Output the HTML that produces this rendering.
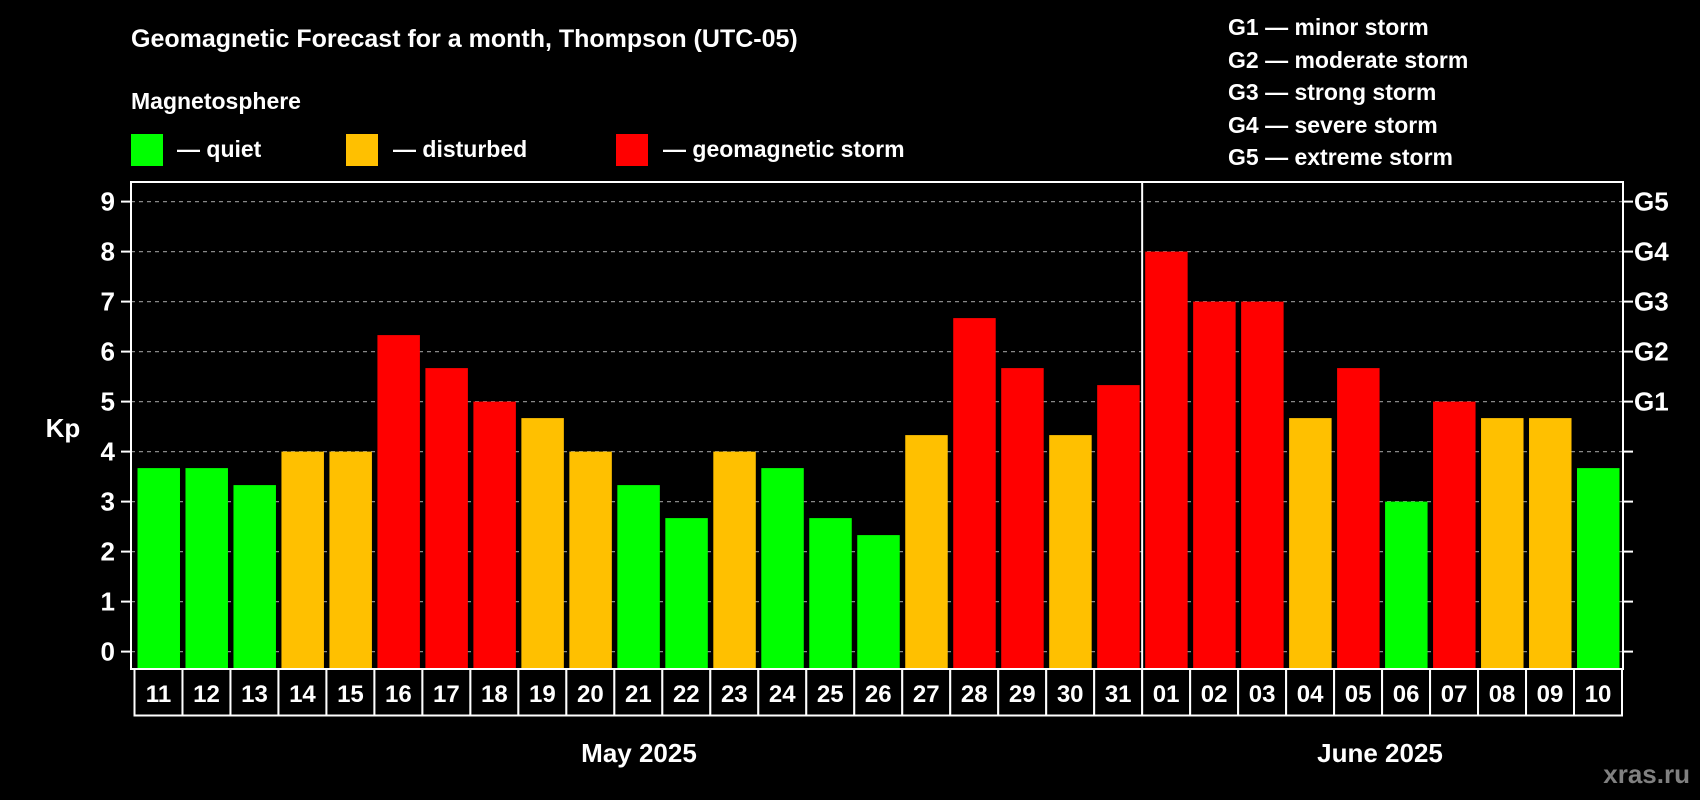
<!DOCTYPE html>
<html><head><meta charset="utf-8"><style>
body{margin:0;background:#000;width:1700px;height:800px;overflow:hidden}
svg{display:block;font-family:"Liberation Sans",sans-serif;font-weight:bold}
</style></head><body>
<svg id="c" width="1700" height="800">
<text x="131" y="47" fill="#fff" font-size="25">Geomagnetic Forecast for a month, Thompson (UTC-05)</text>
<text x="131" y="109" fill="#fff" font-size="23">Magnetosphere</text>
<rect x="131" y="134" width="32" height="32" fill="#00ff00"/>
<text x="177" y="157" fill="#fff" font-size="23">— quiet</text>
<rect x="346" y="134" width="32" height="32" fill="#ffc000"/>
<text x="393" y="157" fill="#fff" font-size="23">— disturbed</text>
<rect x="616" y="134" width="32" height="32" fill="#ff0000"/>
<text x="663" y="157" fill="#fff" font-size="23">— geomagnetic storm</text>
<g fill="#fff" font-size="23">
<text x="1228" y="35">G1 — minor storm</text>
<text x="1228" y="68">G2 — moderate storm</text>
<text x="1228" y="100">G3 — strong storm</text>
<text x="1228" y="133">G4 — severe storm</text>
<text x="1228" y="165">G5 — extreme storm</text>
</g>
<text x="63" y="437" fill="#fff" font-size="26" text-anchor="middle">Kp</text>
<text x="639" y="762" fill="#fff" font-size="26" text-anchor="middle">May 2025</text>
<text x="1380" y="762" fill="#fff" font-size="26" text-anchor="middle">June 2025</text>
<text x="1690" y="783" fill="#808080" font-size="26" text-anchor="end">xras.ru</text>
<g id="plot"></g>
</svg>
<script>
const days=["11","12","13","14","15","16","17","18","19","20","21","22","23","24","25","26","27","28","29","30","31","01","02","03","04","05","06","07","08","09","10"];
const kp=[3.67,3.67,3.33,4,4,6.33,5.67,5,4.67,4,3.33,2.67,4,3.67,2.67,2.33,4.33,6.67,5.67,4.33,5.33,8,7,7,4.67,5.67,3,5,4.67,4.67,3.67];
const yTicks=[0,1,2,3,4,5,6,7,8,9];
const gLabels=["G1","G2","G3","G4","G5"];
const gLevels=[5,6,7,8,9];
const NS="http://www.w3.org/2000/svg";
const g=document.getElementById('plot');
const L=131,R=1623,T=182,B=669,X0=134.5,CW=(1622-134.5)/31;
const y=v=>651.6-v*50;
const x=i=>X0+i*CW;
function mk(t,a,p){const e=document.createElementNS(NS,t);for(const k in a)e.setAttribute(k,a[k]);(p||g).appendChild(e);return e;}
yTicks.forEach(v=>{
 const gl=mk('line',{x1:L,x2:R,y1:y(v),y2:y(v),stroke:'#888','stroke-width':1.2,'stroke-dasharray':'4,4'});
 
 
 mk('line',{x1:L-10,x2:L,y1:y(v),y2:y(v),stroke:'#fff','stroke-width':2});
 mk('line',{x1:R,x2:R+10,y1:y(v),y2:y(v),stroke:'#fff','stroke-width':2});
 const t=mk('text',{x:115,y:y(v)+9,fill:'#fff','font-size':26,'text-anchor':'end'});t.textContent=v;
 
 
});
gLabels.forEach((s,i)=>{
 const t=mk('text',{x:1634,y:y(gLevels[i])+9,fill:'#fff','font-size':26});t.textContent=s;
 
 
});
kp.forEach((v,i)=>{
 const c=v<4?'#00ff00':(v<5?'#ffc000':'#ff0000');
 const r=mk('rect',{x:x(i)+3,y:y(v),width:CW-5.5,height:B-y(v),fill:c});
 
 
 const cell=mk('rect',{x:x(i),y:B,width:CW,height:715.5-B,fill:'#000',stroke:'#fff','stroke-width':2});
 
 
 const t=mk('text',{x:x(i)+CW/2,y:702,fill:'#fff','font-size':24,'text-anchor':'middle'});t.textContent=days[i];
 
 
});
const fr=mk('rect',{x:L,y:T,width:R-L,height:B-T,fill:'none',stroke:'#fff','stroke-width':2});


const dv=mk('line',{x1:x(21),x2:x(21),y1:T,y2:B,stroke:'#fff','stroke-width':2});


</script>
</body></html>
